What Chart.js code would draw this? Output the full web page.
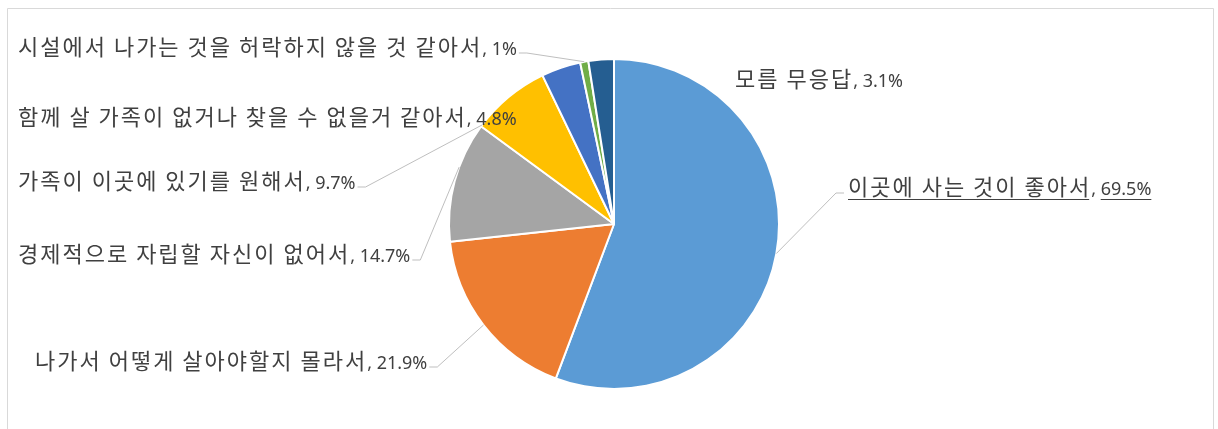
<!DOCTYPE html>
<html lang="ko">
<head>
<meta charset="utf-8">
<title>시설에 계속 사는 이유</title>
<script src="https://cdn.jsdelivr.net/npm/chart.js@4.4.1/dist/chart.umd.min.js"></script>
<style>
  html, body { margin: 0; padding: 0; background: #ffffff; }
  #wrap { position: relative; width: 1218px; height: 429px; }
</style>
</head>
<body>
<div id="wrap"><canvas id="reasonPie" width="1218" height="429"></canvas></div>
<script>
  "use strict";

  // 응답 항목과 비율(복수응답)
  const categories = [
    "이곳에 사는 것이 좋아서",
    "나가서 어떻게 살아야할지 몰라서",
    "경제적으로 자립할 자신이 없어서",
    "가족이 이곳에 있기를 원해서",
    "함께 살 가족이 없거나 찾을 수 없을거 같아서",
    "시설에서 나가는 것을 허락하지 않을 것 같아서",
    "모름 무응답",
  ];
  const values = [69.5, 21.9, 14.7, 9.7, 4.8, 1, 3.1];
  const sliceColors = ["#5B9BD5", "#ED7D31", "#A5A5A5", "#FFC000", "#4472C4", "#70AD47", "#255E91"];

  // label placement: left x / middle y of text, side of the leader, where it meets the slice (0..1 along arc)
  const labelSpots = [
    {x: 848, y: 188, side: "right", attach: 0.5, underline: true},
    {x: 35, y: 362, side: "left", attach: 0.5},
    {x: 18, y: 255, side: "left", attach: 0.62},
    {x: 18, y: 182, side: "left", attach: 0.02},
    {x: 18, y: 118, side: "left", attach: null},
    {x: 18, y: 48, side: "left", attach: 0.5},
    {x: 735, y: 80, side: "left", attach: null},
  ];

  const NAME_FONT = '22px "Noto Sans CJK KR", "Noto Sans", sans-serif';
  const VALUE_FONT = '18px "Noto Sans", "Liberation Sans", sans-serif';
  const NAME_SPACING = "2px";
  const LABEL_COLOR = "#404040";
  const LEADER_COLOR = "#BFBFBF";

  const framePlugin = {
    id: "frame",
    beforeDraw(chart) {
      const ctx = chart.ctx;
      ctx.save();
      ctx.fillStyle = "#ffffff";
      ctx.fillRect(0, 0, chart.width, chart.height);
      ctx.strokeStyle = "#D9D9D9";
      ctx.lineWidth = 1;
      ctx.beginPath();
      ctx.moveTo(7.5, chart.height);
      ctx.lineTo(7.5, 8.5);
      ctx.lineTo(1213.5, 8.5);
      ctx.lineTo(1213.5, chart.height);
      ctx.stroke();
      ctx.restore();
    },
  };

  const sliceLabelPlugin = {
    id: "sliceLabels",
    afterDatasetsDraw(chart) {
      const ctx = chart.ctx;
      const arcs = chart.getDatasetMeta(0).data;
      ctx.save();
      ctx.textBaseline = "alphabetic";
      ctx.textAlign = "left";

      arcs.forEach((arc, i) => {
        const spot = labelSpots[i];
        const name = categories[i];
        const value = values[i] + "%";
        const base = spot.y + 7;

        ctx.fillStyle = LABEL_COLOR;
        ctx.letterSpacing = NAME_SPACING;
        ctx.font = NAME_FONT;
        const nameW = ctx.measureText(name).width;
        ctx.fillText(name, spot.x, base);

        ctx.letterSpacing = "0px";
        ctx.font = VALUE_FONT;
        const sepW = ctx.measureText(", ").width;
        const valueW = ctx.measureText(value).width;
        ctx.fillText(",", spot.x + nameW, base);
        ctx.fillText(value, spot.x + nameW + sepW, base);
        const totalW = nameW + sepW + valueW;

        if (spot.underline) {
          ctx.strokeStyle = LABEL_COLOR;
          ctx.lineWidth = 1;
          const uy = Math.round(base + 4) + 0.5;
          ctx.beginPath();
          ctx.moveTo(spot.x, uy);
          ctx.lineTo(spot.x + nameW - 2, uy);
          ctx.moveTo(spot.x + nameW + sepW, uy);
          ctx.lineTo(spot.x + totalW, uy);
          ctx.stroke();
        }

        if (spot.attach === null) return;
        const p = arc.getProps(["x", "y", "startAngle", "endAngle", "outerRadius"], true);
        const a = p.startAngle + (p.endAngle - p.startAngle) * spot.attach;
        const ex = p.x + Math.cos(a) * p.outerRadius;
        const ey = p.y + Math.sin(a) * p.outerRadius;

        const ly = spot.y + 5;
        let sx, kx;
        if (spot.side === "left") {
          sx = spot.x + totalW + 2;
          kx = sx + 8;
        } else {
          sx = spot.x - 4;
          kx = sx - 8;
        }
        ctx.strokeStyle = LEADER_COLOR;
        ctx.lineWidth = 1;
        ctx.beginPath();
        ctx.moveTo(sx, ly);
        ctx.lineTo(kx, ly);
        ctx.lineTo(ex, ey);
        ctx.stroke();
      });
      ctx.restore();
    },
  };

  new Chart(document.getElementById("reasonPie"), {
    type: "pie",
    data: {
      labels: categories,
      datasets: [{
        data: values,
        backgroundColor: sliceColors,
        borderColor: "#ffffff",
        borderWidth: 2,
      }],
    },
    options: {
      responsive: false,
      animation: false,
      devicePixelRatio: 1,
      layout: {padding: {top: 58, bottom: 39, left: 282, right: 272}},
      plugins: {
        legend: {display: false},
        tooltip: {enabled: false},
      },
    },
    plugins: [framePlugin, sliceLabelPlugin],
  });
</script>
</body>
</html>
